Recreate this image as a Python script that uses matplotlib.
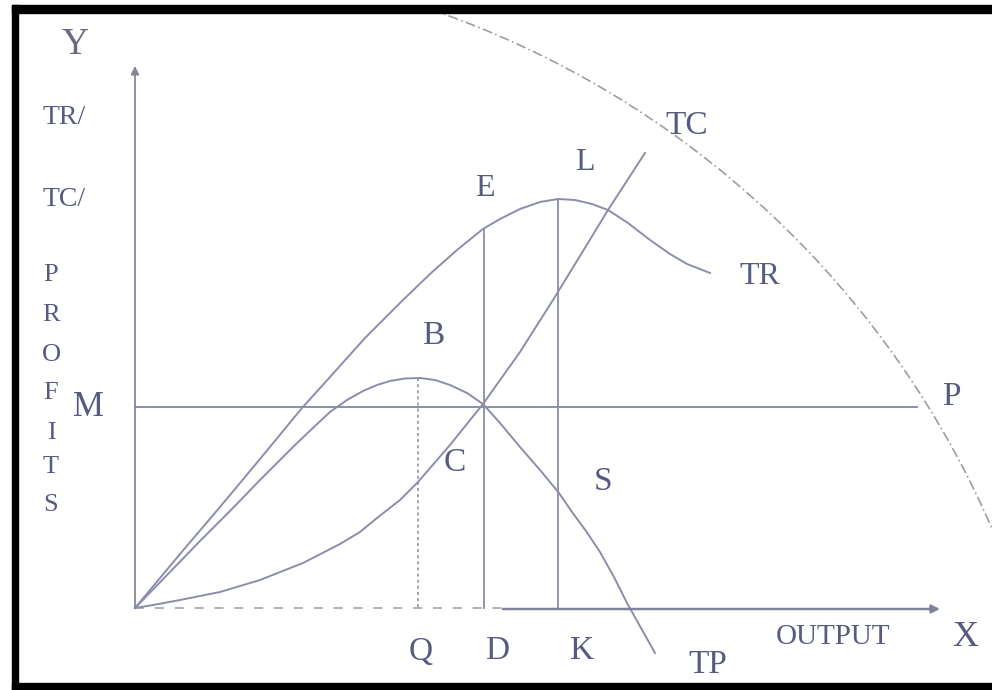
#!/usr/bin/env python3
"""Profit maximisation diagram: TR, TC and TP curves against output."""
import matplotlib
matplotlib.use("Agg")
import matplotlib.pyplot as plt
from matplotlib.patches import Rectangle, Arc

# curve points (pixel-like units, y grows downwards)
TR_X = [135, 180, 220, 260, 302, 330, 365, 403, 430, 457, 483, 500, 520,
        540, 558, 575, 592, 608, 628, 650, 670, 687, 710]
TR_Y = [608, 554, 507, 459, 408, 377, 338, 300, 274, 250, 229, 219, 209,
        202, 199, 200, 204, 210, 223, 240, 254, 264, 273]

TC_X = [135, 153, 180, 220, 260, 303, 340, 360, 377, 400, 418, 450, 483,
        520, 553, 580, 608, 645]
TC_Y = [608, 605, 600, 592, 580, 563, 544, 532, 518, 500, 482, 445, 404,
        352, 300, 256, 210, 153]

TP_X = [135, 170, 200, 230, 260, 295, 315, 330, 347, 363, 377, 390, 405,
        420, 435, 450, 467, 483, 500, 520, 540, 559, 572, 586, 600, 614,
        627, 641, 655]
TP_Y = [608, 572, 541, 511, 480, 445, 426, 412, 400, 391, 385, 381, 378.5,
        378, 380, 385, 393, 404, 423, 447, 470, 493, 512, 531, 552, 577,
        603, 628, 653]

ORIGIN = (135, 608)
Q_X, B_Y = 418, 378        # max profit output / peak of TP
D_X, E_Y = 484, 229
K_X, L_Y = 558, 199        # max revenue
M_Y, M_END = 407, 917      # horizontal profit line

LINE = "#8b8eab"
TXT = "#575b82"
SERIF = ["Liberation Serif", "DejaVu Serif"]

fig = plt.figure(figsize=(9.92, 6.90), dpi=100)
ax = fig.add_axes([0, 0, 1, 1])
ax.set_xlim(0, 992)
ax.set_ylim(690, 0)
ax.axis("off")

# black frame (right side cut off in the original)
for r in [(12, 5, 990, 8), (12, 5, 6, 685), (12, 683, 990, 7)]:
    ax.add_patch(Rectangle(r[:2], r[2], r[3], color="black", zorder=5))

# big dashed arc
ax.add_patch(Arc((123, 905), 2 * 947, 2 * 947, theta1=-71, theta2=-23,
                 color="#9d9da6", lw=1.2, ls=(0, (6, 2, 1, 2)), zorder=1))

# axes
ax.annotate("", xy=(ORIGIN[0], 66), xytext=ORIGIN,
            arrowprops=dict(arrowstyle="-|>", color="#858799", lw=1.3,
                            mutation_scale=12, shrinkA=0, shrinkB=0))
ax.plot([ORIGIN[0], 503], [ORIGIN[1], ORIGIN[1]], color="#a8aab8", lw=1.3,
        ls=(0, (5, 6)))
ax.annotate("", xy=(940, ORIGIN[1] + 1), xytext=(503, ORIGIN[1] + 1),
            arrowprops=dict(arrowstyle="-|>", color="#7f8299", lw=1.8,
                            mutation_scale=12, shrinkA=0, shrinkB=0))

# curves
for xs, ys in [(TR_X, TR_Y), (TC_X, TC_Y), (TP_X, TP_Y)]:
    ax.plot(xs, ys, color=LINE, lw=1.4, solid_joinstyle="round")

# guide lines
ax.plot([ORIGIN[0], M_END], [M_Y, M_Y], color=LINE, lw=1.4)
ax.plot([Q_X, Q_X], [B_Y, ORIGIN[1]], color="#8a8a98", lw=1.1, ls=(0, (2, 2)))
ax.plot([D_X, D_X], [E_Y, ORIGIN[1]], color=LINE, lw=1.3)
ax.plot([K_X, K_X], [L_Y, ORIGIN[1]], color=LINE, lw=1.3)


def lab(x, y, s, size=24, color=TXT):
    ax.text(x, y, s, fontsize=size, color=color, family=SERIF,
            ha="center", va="center", zorder=6)


lab(75, 45, "Y", 27, "#686a80")
lab(64, 118, "TR/", 20)
lab(64, 199, "TC/", 20)
for ch, y in zip("PROFITS", [275, 315, 355, 393, 433, 467, 505]):
    lab(51, y, ch, 19)
lab(88, 407, "M", 25)
lab(687, 126, "TC", 24)
lab(585, 163, "L", 23)
lab(485, 189, "E", 23)
lab(760, 277, "TR", 23)
lab(433, 336, "B", 24)
lab(951, 397, "P", 24)
lab(455, 463, "C", 24)
lab(603, 482, "S", 24)
lab(421, 652, "Q", 24)
lab(497, 651, "D", 24)
lab(582, 651, "K", 24)
lab(708, 665, "TP", 24)
lab(833, 637, "OUTPUT", 21)
lab(965, 637, "X", 26)

fig.savefig("out.png", dpi=100)
